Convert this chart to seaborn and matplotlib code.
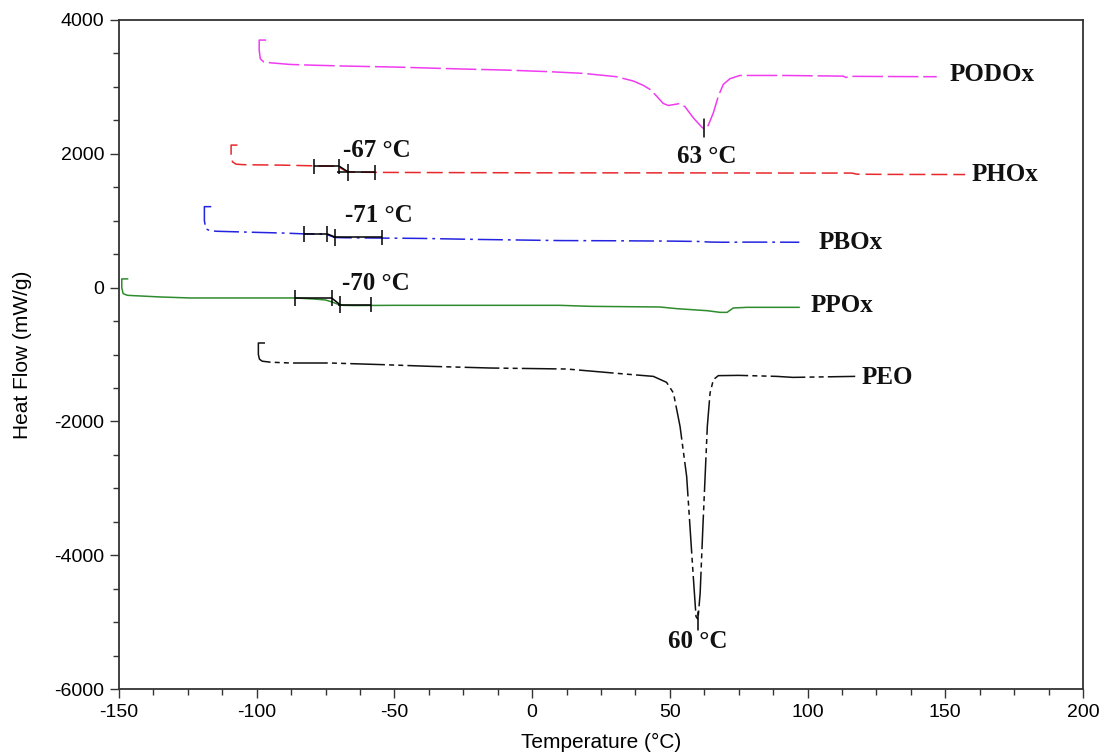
import matplotlib
matplotlib.use("Agg")
import matplotlib.pyplot as plt
import seaborn as sns
import numpy as np
import pandas as pd
from matplotlib.ticker import MultipleLocator

# ---------------- data ----------------
podox_x = [-96.6, -99.1, -99.1, -98.7, -97.5, -95, -88, -80, -67.3, -49.2, -28.6, -9.2, 6.5, 18.6,
           30.7, 36.8, 40.4, 42.8, 45.2, 47.6, 49.5, 53.7, 55.5, 58.5, 61.5, 62.4, 63.9, 65.8,
           67.6, 69.4, 71.8, 75.4, 91, 112.9, 114, 115, 146.9]
podox_y = [3700, 3700, 3550, 3420, 3375, 3360, 3336, 3325, 3311, 3296, 3271, 3251, 3227, 3202,
           3152, 3087, 3022, 2962, 2862, 2752, 2722, 2752, 2703, 2538, 2403, 2373, 2423, 2613,
           2862, 3037, 3122, 3171, 3171, 3161, 3140, 3158, 3152]

phox_x = [-107, -109.3, -109.3, -108.8, -107.5, -105, -101, -90, -79.2, -72, -70, -68.5, -67,
          -66, -63.6, -55, -40, -20, 0, 20, 50, 80, 100, 116, 118, 130, 157.2]
phox_y = [2130, 2130, 1990, 1880, 1845, 1838, 1835, 1830, 1820, 1815, 1800, 1760, 1735,
          1728, 1725, 1722, 1720, 1718, 1716, 1715, 1715, 1713, 1712, 1712, 1695, 1692, 1690]

pbox_x = [-116.5, -119, -119, -118.5, -117, -114.5, -102.4, -90, -82.8, -76, -74.4, -73, -72,
          -71, -68, -60, -40, -20, 10, 30, 50, 60, 65, 70, 80, 97]
pbox_y = [1210, 1210, 1000, 880, 850, 842, 828, 815, 803, 800, 790, 770, 755,
          748, 745, 742, 735, 720, 703, 700, 695, 690, 680, 678, 680, 678]

ppox_x = [-146.8, -149, -149, -148.5, -147, -144.8, -135, -124.2, -100, -86, -79.4, -75, -72.3,
          -70.5, -68.7, -65, -50, -29.8, 0, 10.1, 21, 46.4, 52.6, 58, 63.5, 68.2, 70.8, 73, 78, 97]
ppox_y = [130, 130, 0, -90, -115, -120, -140, -155, -155, -155, -170, -185, -220,
          -250, -265, -268, -265, -265, -265, -265, -280, -290, -315, -330, -345, -370, -370,
          -305, -295, -295]

peo_x = [-97, -99.4, -99.4, -99, -98, -95, -87.9, -73.4, -54, -37, -15.2, 12.6, 32, 44, 48.8,
         51.3, 53.7, 56.1, 57.3, 58.5, 59.5, 60.2, 61, 62, 62.8, 63.6, 64.6, 65.8, 67.6, 75,
         88.8, 94.7, 117.3]
peo_y = [-828, -828, -1000, -1070, -1100, -1115, -1127, -1127, -1152, -1177, -1202, -1217,
         -1286, -1327, -1416, -1575, -2075, -2822, -3570, -4318, -4917, -4960, -4567, -3570,
         -2822, -2075, -1575, -1376, -1316, -1312, -1327, -1342, -1327]

series_names = ["PODOx", "PHOx", "PBOx", "PPOx", "PEO"]
series_x = [podox_x, phox_x, pbox_x, ppox_x, peo_x]
series_y = [podox_y, phox_y, pbox_y, ppox_y, peo_y]
series_colors = ["#f03cf0", "#e8282c", "#2424e0", "#2e8b2e", "#111111"]
series_dashes = [(0, (22, 3.5)), (0, (11.5, 4.3)), (0, (18, 3.6, 2, 3.6)), "solid",
                 (0, (25, 3, 3.6, 3, 3.6, 3))]
# name label anchors (x, y)
label_x = [151.5, 159.6, 103.9, 101.1, 119.7]
label_y = [3180, 1690, 668, -269, -1351]

# glass transition analysis (PHOx, PBOx, PPOx)
tg_names = ["PHOx", "PBOx", "PPOx"]
tg_before_x0 = [-79.2, -82.8, -86.1]
tg_before_x1 = [-70.0, -74.4, -72.8]
tg_before_y = [1814, 803, -155]
tg_after_x0 = [-70.7, -72.2, -70.4]
tg_after_x1 = [-57.0, -54.6, -58.6]
tg_after_y = [1725, 753, -254]
tg_values = [-66.7, -71.4, -69.8]
tg_text = ["-67 \u00b0C", "-71 \u00b0C", "-70 \u00b0C"]
tg_text_x = [-68.8, -67.9, -69.1]
tg_text_y = [2054, 1077, 60]

# melting peaks (PODOx, PEO)
tm_values = [62.4, 60.2]
tm_tick_top = [2513, -4850]
tm_tick_bottom = [2254, -5120]
tm_text = ["63 \u00b0C", "60 \u00b0C"]
tm_text_x = [63.4, 60.2]
tm_text_y = [1964, -5290]

# ---------------- figure ----------------
sns.set_theme(style="ticks")
plt.rcParams["font.family"] = ["Liberation Sans", "DejaVu Sans"]
plt.rcParams["lines.scale_dashes"] = False
plt.rcParams["axes.unicode_minus"] = False

fig = plt.figure(figsize=(11.02, 7.52), dpi=100)
ax = fig.add_axes([119 / 1102, 1 - 689 / 752, 964 / 1102, 669 / 752])

for name, xs, ys, col, ls in zip(series_names, series_x, series_y, series_colors, series_dashes):
    df = pd.DataFrame({"Temperature": xs, "HeatFlow": ys})
    sns.lineplot(data=df, x="Temperature", y="HeatFlow", sort=False, estimator=None,
                 color=col, linewidth=1.1, ax=ax)
    ax.lines[-1].set_linestyle(ls)

serif = ["Liberation Serif", "DejaVu Serif"]
for name, lx, ly in zip(series_names, label_x, label_y):
    ax.text(lx, ly, name, ha="left", va="center", fontsize=18, fontweight="bold",
            family=serif, color="#111111")

# Tg constructions
th = 115  # half height of small marker ticks (data units)
for i in range(len(tg_names)):
    k = dict(color="black", linewidth=1.1, solid_capstyle="butt")
    ax.plot([tg_before_x0[i], tg_before_x1[i]], [tg_before_y[i], tg_before_y[i]], **k)
    ax.plot([tg_after_x0[i], tg_after_x1[i]], [tg_after_y[i], tg_after_y[i]], **k)
    ax.plot([tg_before_x1[i], tg_values[i]], [tg_before_y[i], tg_after_y[i]], **k)
    for xv, yv in [(tg_before_x0[i], tg_before_y[i]), (tg_before_x1[i], tg_before_y[i]),
                   (tg_after_x1[i], tg_after_y[i])]:
        ax.plot([xv, xv], [yv - th, yv + th], **k)
    ax.plot([tg_values[i], tg_values[i]], [tg_after_y[i] - th * 1.1, tg_after_y[i] + th * 1.1], **k)
    ax.text(tg_text_x[i], tg_text_y[i], tg_text[i], ha="left", va="center", fontsize=18,
            fontweight="bold", family=serif, color="#111111")

for xv, y0, y1, t, tx, ty in zip(tm_values, tm_tick_top, tm_tick_bottom, tm_text, tm_text_x, tm_text_y):
    ax.plot([xv, xv], [y0, y1], color="black", linewidth=1.1)
    ax.text(tx, ty, t, ha="center", va="center", fontsize=18, fontweight="bold",
            family=serif, color="#111111")

ax.set_xlim(-150, 200)
ax.set_ylim(-6000, 4000)
ax.xaxis.set_major_locator(MultipleLocator(50))
ax.xaxis.set_minor_locator(MultipleLocator(12.5))
ax.yaxis.set_major_locator(MultipleLocator(2000))
ax.yaxis.set_minor_locator(MultipleLocator(500))
ax.tick_params(axis="both", which="major", direction="out", length=6.5, width=1.0,
               color="#333333", labelsize=14, labelcolor="black", pad=4)
ax.tick_params(axis="both", which="minor", direction="out", length=4, width=1.0, color="#333333")
ax.tick_params(top=False, right=False, which="both")
for sp in ax.spines.values():
    sp.set_visible(True)
    sp.set_color("#333333")
    sp.set_linewidth(1.3)

ax.set_xlabel("Temperature (\u00b0C)", fontsize=15, color="black")
ax.set_ylabel("Heat Flow (mW/g)", fontsize=15, color="black")
ax.xaxis.set_label_coords(0.5, -0.065)
ax.yaxis.set_label_coords(-0.090, 0.5)

fig.savefig("out.png", dpi=100)
